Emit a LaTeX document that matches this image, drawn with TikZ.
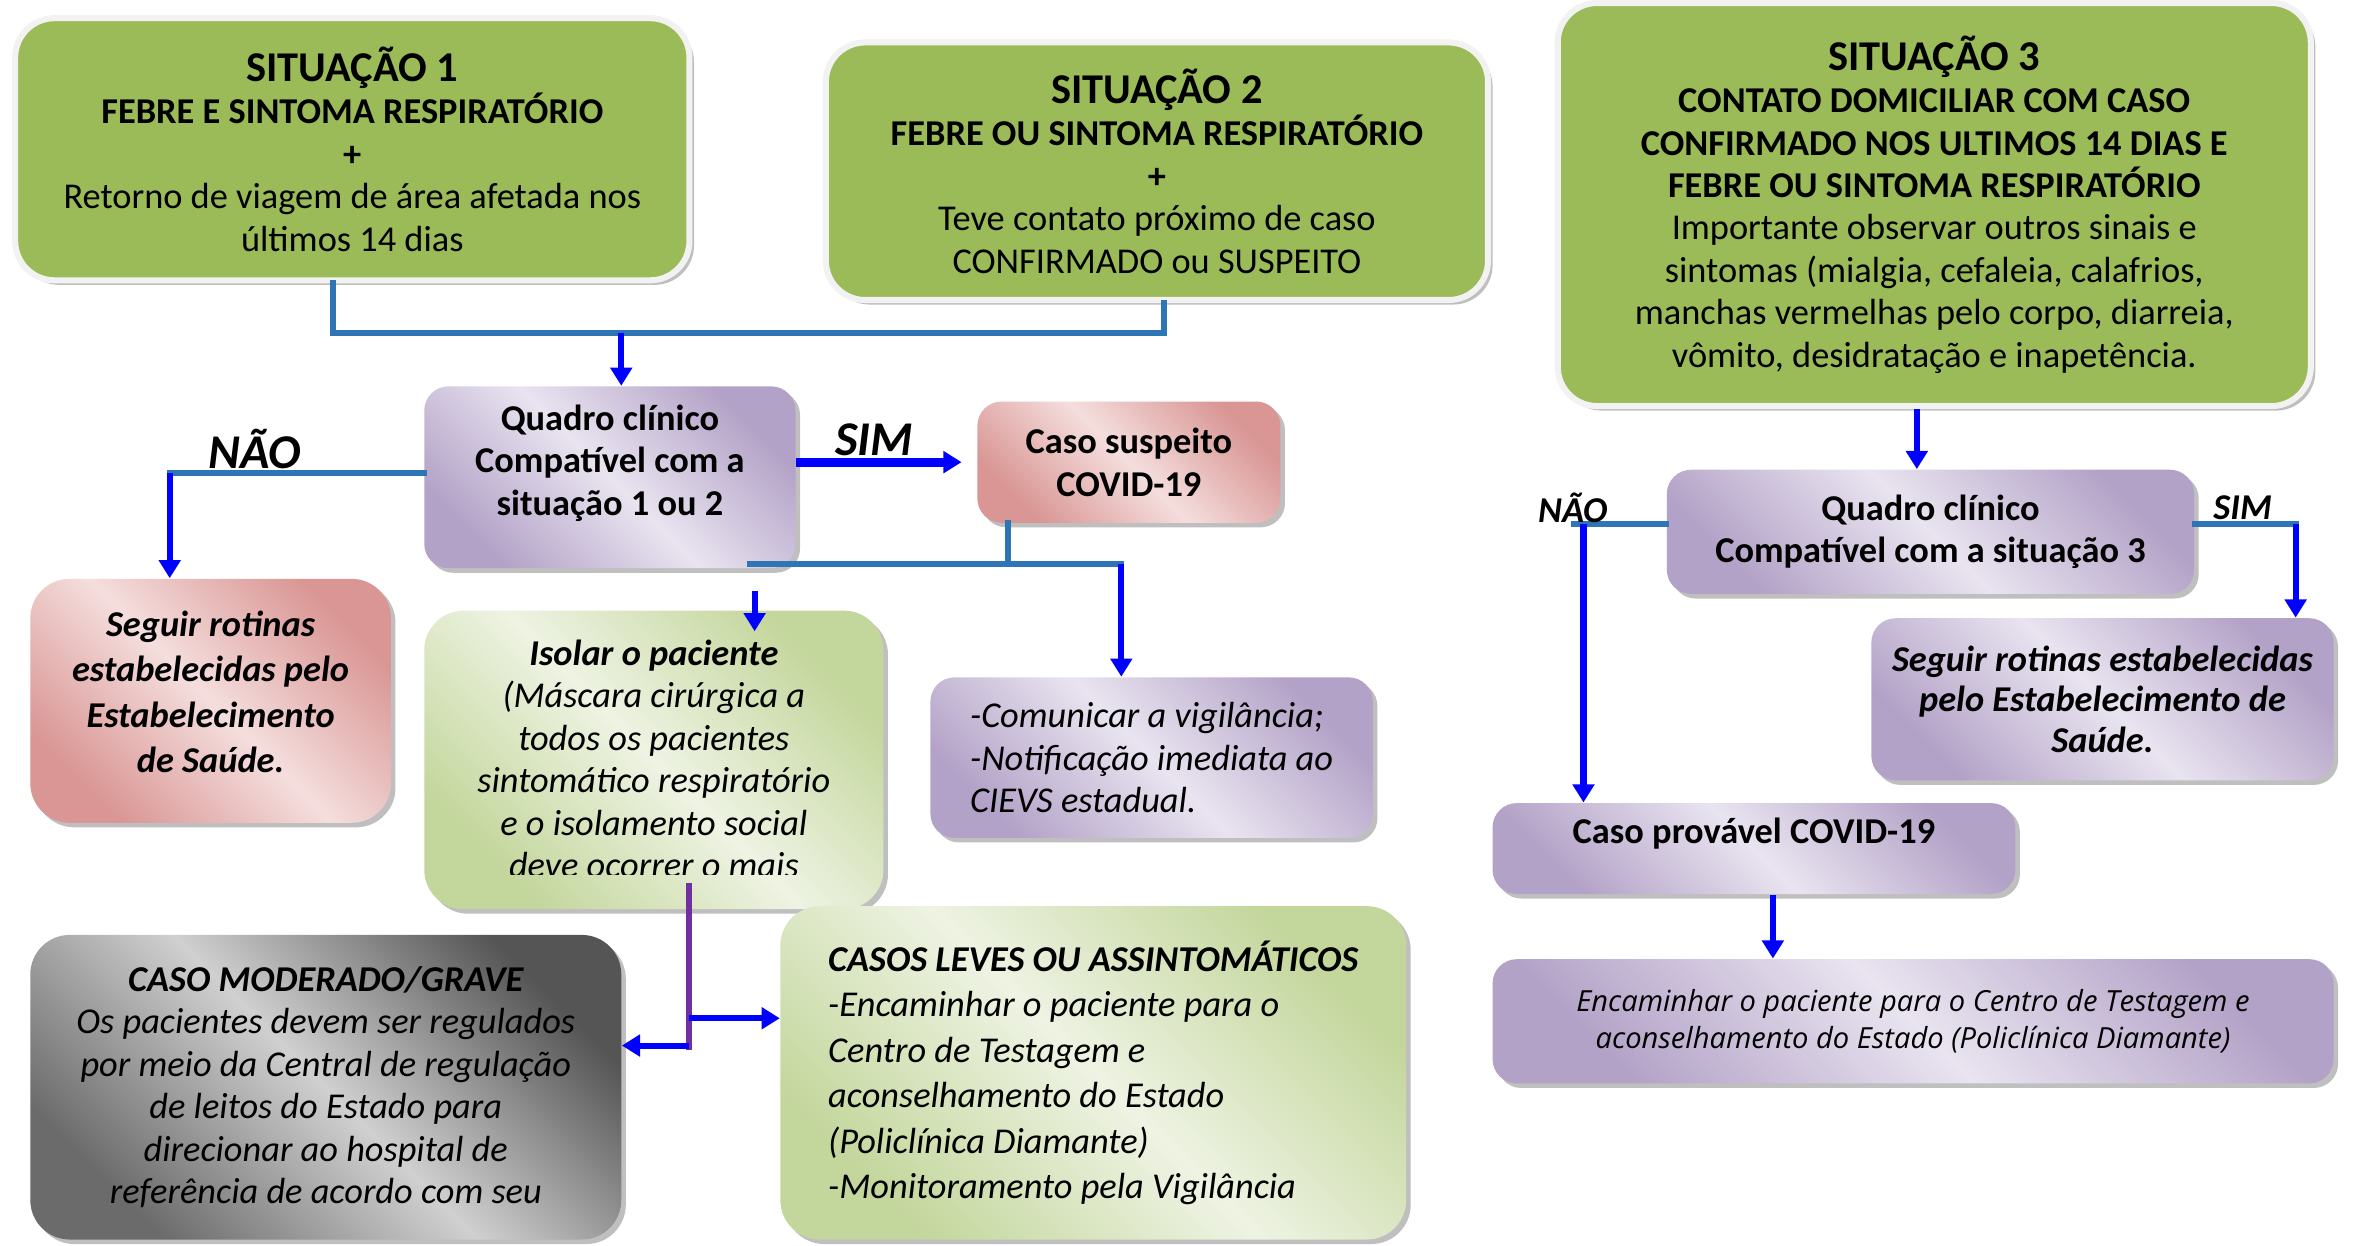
\documentclass[tikz,border=0pt]{standalone}
\usepackage{fontspec}
\setmainfont{Carlito}
\newfontfamily\encfont{Open Sans}
\usetikzlibrary{arrows.meta,shadows}
\definecolor{sitgreen}{HTML}{9BBB59}
\definecolor{pdark}{HTML}{B3A2C7}
\definecolor{plight}{HTML}{E9E4F0}
\definecolor{rdark}{HTML}{D99694}
\definecolor{rlight}{HTML}{F4DEDD}
\definecolor{gdark}{HTML}{C3D69B}
\definecolor{glight}{HTML}{EEF3E3}
\definecolor{kdark}{HTML}{555555}
\definecolor{klight}{HTML}{D0D0D0}
\definecolor{steel}{HTML}{2E75B6}
\definecolor{arrowblue}{HTML}{0000FF}
\definecolor{purpline}{HTML}{7030A0}

\begin{document}
\begin{tikzpicture}[x=0.5pt, y=-0.5pt,
  flowbox/.style={rounded corners=8pt, inner sep=0pt, align=center,
    font=\fontsize{12}{14}\selectfont,
    drop shadow={shadow xshift=1.5pt, shadow yshift=-1.5pt, fill=black!50, opacity=0.5}},
  sitbox/.style={flowbox, rounded corners=13pt, fill=sitgreen, draw=black!5, line width=2pt},
  pbox/.style={flowbox, top color=pdark, bottom color=pdark, middle color=plight, shading angle=-45},
  rbox/.style={flowbox, top color=rdark, bottom color=rdark, middle color=rlight, shading angle=-45},
  gbox/.style={flowbox, rounded corners=13pt, top color=gdark, bottom color=gdark, middle color=glight, shading angle=-45},
  kbox/.style={flowbox, rounded corners=13pt, top color=kdark, bottom color=black!58, middle color=klight, shading angle=-45},
  link/.style={steel, line width=2pt, line cap=rect},
  go/.style={arrowblue, line width=2pt, -{Triangle[width=7pt,length=6pt]}},
  bigword/.style={inner sep=0pt, font=\fontsize{16}{16}\selectfont\bfseries\itshape},
  smallword/.style={inner sep=0pt, font=\fontsize{12}{12}\selectfont\bfseries\itshape},
]
    \fill[white] (0,0) rectangle (1570,822);
    \useasboundingbox (0,0) rectangle (1570,822);

    % situacoes
    \node[sitbox, minimum width=222.5pt, minimum height=86.5pt] (sit1) at (232.5,98.5)
        {\textbf{\fontsize{14}{16}\selectfont SITUAÇÃO 1}\\ \textbf{FEBRE E SINTOMA RESPIRATÓRIO}\\ \textbf{+}\\ Retorno de viagem de área afetada nos\\ últimos 14 dias};
    \node[sitbox, minimum width=218.5pt, minimum height=85pt] (sit2) at (763.5,113)
        {\textbf{\fontsize{14}{16}\selectfont SITUAÇÃO 2}\\ \textbf{FEBRE OU SINTOMA RESPIRATÓRIO}\\ \textbf{+}\\ Teve contato próximo de caso\\ CONFIRMADO ou SUSPEITO};
    \node[sitbox, minimum width=248.5pt, minimum height=133pt] (sit3) at (1276.5,135)
        {\textbf{\fontsize{14}{16}\selectfont SITUAÇÃO 3}\\ \textbf{CONTATO DOMICILIAR COM CASO}\\ \textbf{CONFIRMADO NOS ULTIMOS 14 DIAS E}\\ \textbf{FEBRE OU SINTOMA RESPIRATÓRIO}\\
         Importante observar outros sinais e\\ sintomas (mialgia, cefaleia, calafrios,\\ manchas vermelhas pelo corpo, diarreia,\\ vômito, desidratação e inapetência.};

    % lado esquerdo
    \node[pbox, minimum width=122.5pt, minimum height=60pt, text depth=11.5pt] (quad1) at (402.5,315)
        {\textbf{Quadro clínico}\\ \textbf{Compatível com a}\\ \textbf{situação 1 ou 2}};
    \node[rbox, minimum width=100pt, minimum height=40pt] (susp) at (745,305)
        {\textbf{Caso suspeito}\\ \textbf{COVID-19}};
    \node[rbox, rounded corners=13pt, minimum width=119pt, minimum height=80.5pt, text depth=6pt,
          font=\fontsize{12}{15}\selectfont\bfseries\itshape] (segue1) at (139,462.5)
        {Seguir rotinas\\ estabelecidas pelo\\ Estabelecimento\\ de Saúde.};
    \node[gbox, minimum width=151.5pt, minimum height=98.5pt] (isol) at (431.5,501.5) {};
    \begin{scope}
        \clip (isol.north west) rectangle (isol.east |- 0,577);
        \node[anchor=north, inner sep=0pt, align=center, font=\fontsize{12}{14}\selectfont\itshape] (isoltxt) at (431.5,422)
            {\textbf{Isolar o paciente}\\ (Máscara cirúrgica a\\ todos os pacientes\\ sintomático respiratório\\ e o isolamento social\\ deve ocorrer o mais};
    \end{scope}
    \node[pbox, minimum width=146pt, minimum height=53pt, align=left, font=\fontsize{12}{14}\selectfont\itshape] (comun) at (760,500)
        {-Comunicar a vigilância;\\ -Notificação imediata ao\\ CIEVS estadual.};
    \node[kbox, minimum width=195pt, minimum height=100.5pt, font=\fontsize{12}{14}\selectfont\itshape] (grave) at (215,717.5)
        {\textbf{CASO MODERADO/GRAVE}\\ Os pacientes devem ser regulados\\ por meio da Central de regulação\\ de leitos do Estado para\\ direcionar ao hospital de\\ referência de acordo com seu};
    \node[gbox, minimum width=206.5pt, minimum height=110pt, align=left, font=\fontsize{12}{15}\selectfont\itshape] (leve) at (721.5,708)
        {\textbf{CASOS LEVES OU ASSINTOMÁTICOS}\\ -Encaminhar o paciente para o\\ Centro de Testagem e\\ aconselhamento do Estado\\ (Policlínica Diamante)\\ -Monitoramento pela Vigilância};

    % lado direito
    \node[pbox, minimum width=174pt, minimum height=41pt] (quad3) at (1274,351)
        {\textbf{Quadro clínico}\\ \textbf{Compatível com a situação 3}};
    \node[pbox, minimum width=152.5pt, minimum height=53.5pt, font=\fontsize{12}{13.5}\selectfont\bfseries\itshape] (segue3) at (1387.5,461.5)
        {Seguir rotinas estabelecidas\\ pelo Estabelecimento de\\ Saúde.};
    \node[pbox, minimum width=172.5pt, minimum height=30pt, text depth=11.5pt] (prov) at (1157.5,560)
        {\textbf{Caso provável COVID-19}};
    \node[pbox, minimum width=277.5pt, minimum height=41pt, font=\encfont\fontsize{9.6}{12.5}\selectfont\itshape] (encam) at (1262.5,674)
        {Encaminhar o paciente para o Centro de Testagem e\\ aconselhamento do Estado (Policlínica Diamante)};

    % ligacoes
    \coordinate (join12) at (410,220);
    \draw[link] ([xshift=-6.25pt]sit1.south) |- (join12) -| ([xshift=2.25pt]sit2.south);
    \draw[go] (join12) -- (join12 |- quad1.north);

    \coordinate (nao1) at (112,312);
    \draw[link] (quad1.west |- nao1) -- (nao1);
    \draw[go] (nao1) -- (nao1 |- segue1.north);
    \node[bigword] (naoA) at (168,296) {NÃO};

    \draw[go, line width=3pt, shorten >=5pt] (quad1.east |- susp.west) -- (susp.west);
    \node[bigword] (simA) at (577,290) {SIM};

    \coordinate (ramo) at (665,372);
    \coordinate (ramoL) at (495,372);
    \coordinate (ramoR) at (740,372);
    \draw[link] (susp.south -| ramo) -- (ramo);
    \draw[link] (ramoL) -- (ramoR);
    \coordinate (isolin) at (498,390);
    \draw[go] (isolin) -- ([yshift=-7pt]isolin |- isol.north);
    \draw[go] (ramoR) -- (ramoR |- comun.north);

    \coordinate (vtop) at (455,583);
    \coordinate (vbot) at (455,693);
    \coordinate (vleft) at (455,690);
    \coordinate (vright) at (455,672);
    \draw[purpline, line width=2pt] (vtop) -- (vbot);
    \draw[go] (vleft) -- (vleft -| grave.east);
    \draw[go] (vright) -- (vright -| leve.west);

    \draw[go] ([xshift=-5.75pt]sit3.south) -- ([xshift=-5.75pt]sit3.south |- quad3.north);
    \coordinate (nao3) at (1045,346);
    \draw[link] (quad3.west |- nao3) -- ([xshift=-3pt]nao3);
    \draw[go] (nao3) -- (nao3 |- prov.north);
    \node[smallword] (naoB) at (1038,335) {NÃO};
    \coordinate (sim3) at (1515,346);
    \draw[link] (quad3.east |- sim3) -- (sim3);
    \draw[go] (sim3) -- (sim3 |- segue3.north);
    \node[smallword] (simB) at (1480,335) {SIM};
    \draw[go] ([xshift=6.25pt]prov.south) -- ([xshift=6.25pt]prov.south |- encam.north);
\end{tikzpicture}
\end{document}
